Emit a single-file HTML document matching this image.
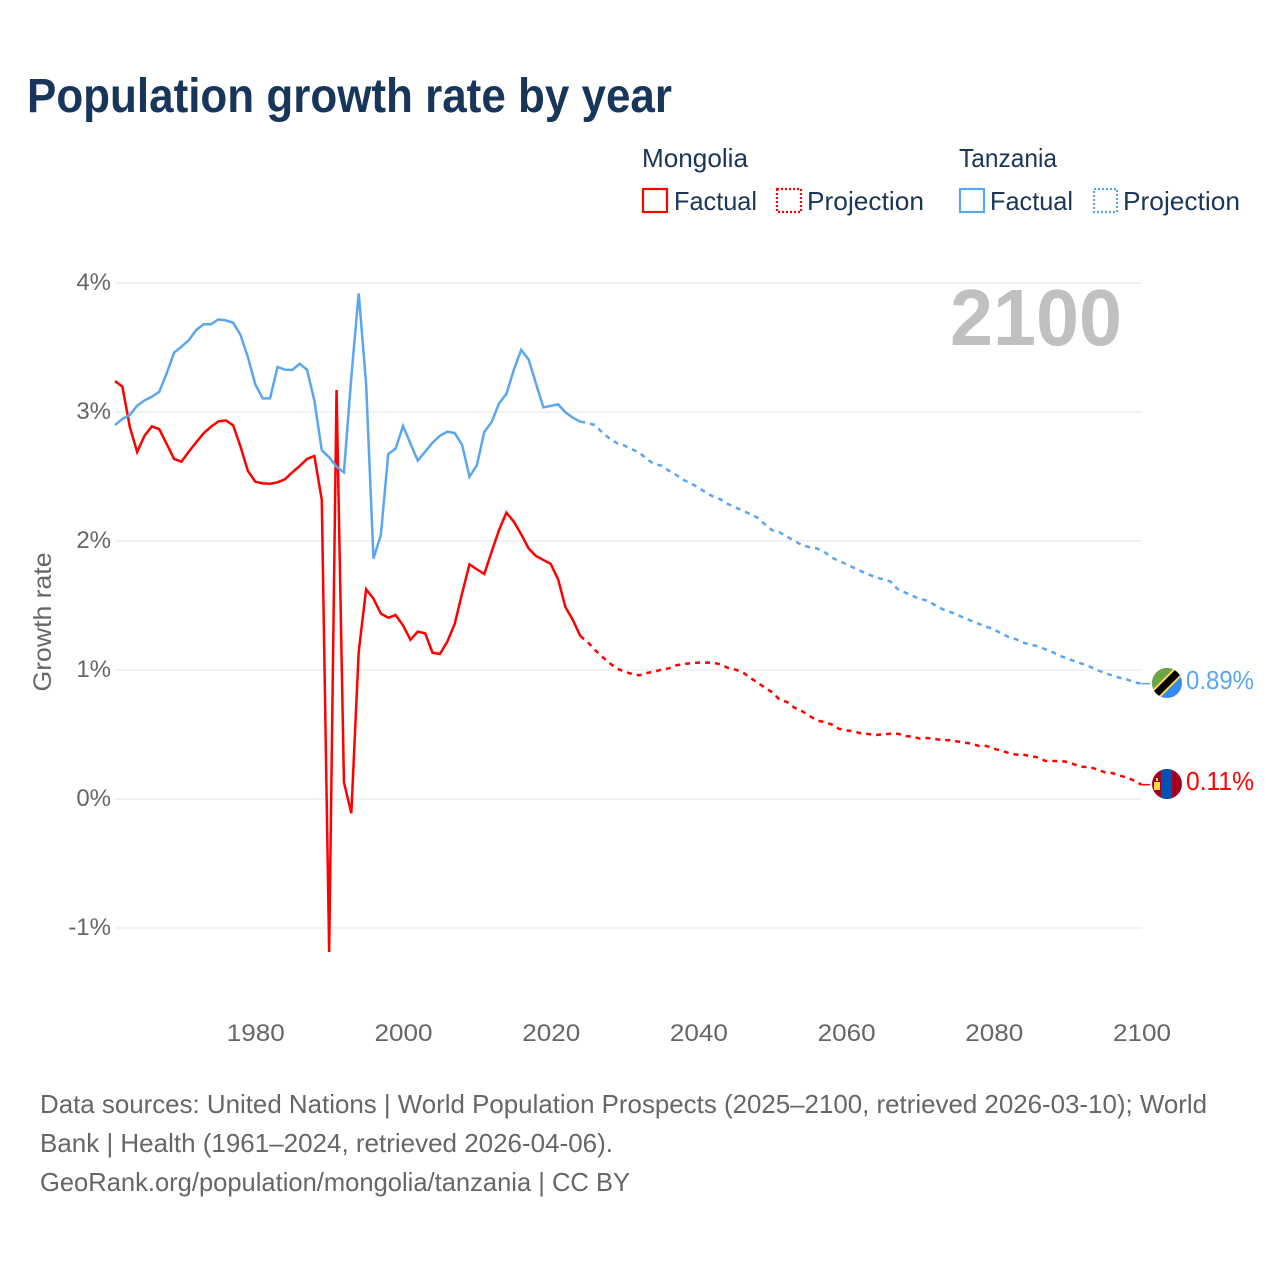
<!DOCTYPE html>
<html lang="en">
<head>
<meta charset="utf-8">
<title>Population growth rate by year</title>
<style>
html,body{margin:0;padding:0;background:#fff;}
svg{display:block;font-family:"Liberation Sans",sans-serif;}
.legend-text{font-size:26px;fill:#1a3557;}
.foot{font-size:26px;fill:#666;}
</style>
</head>
<body>
<svg id="chart" xmlns="http://www.w3.org/2000/svg" width="1280" height="1280" viewBox="0 0 1280 1280">
  <defs>
    <clipPath id="clip-tz"><circle cx="1167" cy="683" r="15"/></clipPath>
    <clipPath id="clip-mn"><circle cx="1167" cy="784" r="15"/></clipPath>
  </defs>
  <rect x="0" y="0" width="1280" height="1280" fill="#fff"/>

  <text x="27" y="112" font-size="48" font-weight="700" fill="#18355a" textLength="645" lengthAdjust="spacingAndGlyphs">Population growth rate by year</text>

  <g>
    <text class="legend-text" x="642" y="167" textLength="106" lengthAdjust="spacingAndGlyphs">Mongolia</text>
    <text class="legend-text" x="959" y="167" textLength="98" lengthAdjust="spacingAndGlyphs">Tanzania</text>

    <g>
      <rect x="643" y="189" width="24" height="23" fill="none" stroke="#ff0000" stroke-width="2.2"/>
      <text class="legend-text" x="674" y="210" textLength="83" lengthAdjust="spacingAndGlyphs">Factual</text>
    </g>
    <g>
      <rect x="777" y="189" width="24" height="23" fill="none" stroke="#ff0000" stroke-width="2.2" stroke-dasharray="2 2"/>
      <text class="legend-text" x="807" y="210" textLength="117" lengthAdjust="spacingAndGlyphs">Projection</text>
    </g>
    <g>
      <rect x="960" y="189" width="24" height="23" fill="none" stroke="#5ba6ef" stroke-width="2.2"/>
      <text class="legend-text" x="990" y="210" textLength="83" lengthAdjust="spacingAndGlyphs">Factual</text>
    </g>
    <g>
      <rect x="1094" y="189" width="23" height="23" fill="none" stroke="#5ba6ef" stroke-width="2.2" stroke-dasharray="2 2"/>
      <text class="legend-text" x="1123" y="210" textLength="117" lengthAdjust="spacingAndGlyphs">Projection</text>
    </g>
  </g>

  <g id="grid"></g>
  <g id="yticks"></g>
  <g id="xticks"></g>

  <text x="51" y="622" font-size="25" fill="#666" text-anchor="middle" textLength="139" lengthAdjust="spacingAndGlyphs" transform="rotate(-90 51 622)">Growth rate</text>

  <text x="950" y="345" font-size="80" font-weight="700" fill="#c0c0c0" textLength="172" lengthAdjust="spacingAndGlyphs">2100</text>

  <g id="series"></g>

  <g clip-path="url(#clip-tz)">
    <rect x="1150" y="666" width="34" height="34" fill="#338af3"/>
    <polygon points="1150,666 1184,666 1150,700" fill="#6da544"/>
    <line x1="1150" y1="700" x2="1184" y2="666" stroke="#ffda44" stroke-width="11"/>
    <line x1="1150" y1="700" x2="1184" y2="666" stroke="#000" stroke-width="7"/>
  </g>
  <g clip-path="url(#clip-mn)">
    <rect x="1150" y="767" width="34" height="34" fill="#a2001d"/>
    <rect x="1161" y="767" width="11" height="34" fill="#0052b4"/>
    <rect x="1154" y="782" width="6" height="8" fill="#ffda44"/>
    <rect x="1156" y="778" width="2" height="3" fill="#ffda44"/>
  </g>

  <text id="label-tz" x="1186" y="689" font-size="26" fill="#5ba6ef" textLength="68" lengthAdjust="spacingAndGlyphs">0.89%</text>
  <text id="label-mn" x="1186" y="790" font-size="26" fill="#ff0000" textLength="68" lengthAdjust="spacingAndGlyphs">0.11%</text>

  <g>
    <text class="foot" x="40" y="1113" textLength="1167" lengthAdjust="spacingAndGlyphs">Data sources: United Nations | World Population Prospects (2025–2100, retrieved 2026-03-10); World</text>
    <text class="foot" x="40" y="1152" textLength="573" lengthAdjust="spacingAndGlyphs">Bank | Health (1961–2024, retrieved 2026-04-06).</text>
    <text class="foot" x="40" y="1191" textLength="590" lengthAdjust="spacingAndGlyphs">GeoRank.org/population/mongolia/tanzania | CC BY</text>
  </g>
</svg>

<script>
const yTickValues = [4, 3, 2, 1, 0, -1];
const yTickLabels = ['4%', '3%', '2%', '1%', '0%', '-1%'];
const xTickYears = [1980, 2000, 2020, 2040, 2060, 2080, 2100];
const xTickLabels = ['1980', '2000', '2020', '2040', '2060', '2080', '2100'];

const factualStartYear = 1961;
const projectionStartYear = 2024;

const mongoliaFactual = [
  3.24, 3.196, 2.886, 2.69, 2.816, 2.889, 2.866, 2.752, 2.636, 2.615,
  2.693, 2.765, 2.835, 2.886, 2.927, 2.935, 2.897, 2.731, 2.543, 2.46,
  2.447, 2.444, 2.455, 2.478, 2.532, 2.581, 2.636, 2.659, 2.318, -1.186,
  3.17, 0.13, -0.11, 1.14, 1.626, 1.553, 1.437, 1.405, 1.426, 1.346,
  1.235, 1.297, 1.284, 1.134, 1.124, 1.22, 1.357, 1.594, 1.819, 1.78,
  1.744, 1.917, 2.085, 2.22, 2.15, 2.052, 1.943, 1.884, 1.853, 1.822,
  1.703, 1.486, 1.388, 1.264
];
const mongoliaProjection = [
  1.264, 1.217, 1.155, 1.101, 1.052, 1.01, 0.987, 0.969, 0.959, 0.977,
  0.987, 1.003, 1.013, 1.036, 1.047, 1.052, 1.057, 1.057, 1.057, 1.043,
  1.016, 1.003, 0.982, 0.94, 0.902, 0.863, 0.827, 0.77, 0.752, 0.708,
  0.682, 0.646, 0.61, 0.597, 0.579, 0.545, 0.532, 0.525, 0.509, 0.504,
  0.496, 0.501, 0.506, 0.506, 0.488, 0.483, 0.468, 0.473, 0.465, 0.457,
  0.455, 0.447, 0.437, 0.429, 0.411, 0.411, 0.39, 0.375, 0.357, 0.344,
  0.344, 0.331, 0.323, 0.295, 0.295, 0.295, 0.287, 0.266, 0.25, 0.246,
  0.23, 0.207, 0.202, 0.181, 0.168, 0.142, 0.111
];
const tanzaniaFactual = [
  2.899, 2.946, 2.977, 3.049, 3.09, 3.119, 3.157, 3.3, 3.46, 3.506,
  3.558, 3.636, 3.68, 3.68, 3.718, 3.71, 3.692, 3.597, 3.424, 3.214,
  3.106, 3.106, 3.349, 3.328, 3.326, 3.374, 3.328, 3.088, 2.703, 2.649,
  2.576, 2.532, 3.27, 3.92, 3.222, 1.863, 2.047, 2.674, 2.716, 2.891,
  2.757, 2.623, 2.693, 2.762, 2.816, 2.847, 2.837, 2.746, 2.498, 2.587,
  2.845, 2.922, 3.067, 3.14, 3.326, 3.481, 3.408, 3.222, 3.036, 3.047,
  3.06, 2.997, 2.956, 2.925
];
const tanzaniaProjection = [
  2.925, 2.915, 2.899, 2.84, 2.793, 2.758, 2.739, 2.711, 2.685, 2.636,
  2.597, 2.584, 2.545, 2.512, 2.473, 2.447, 2.413, 2.377, 2.344, 2.323,
  2.287, 2.261, 2.235, 2.209, 2.181, 2.129, 2.083, 2.067, 2.033, 2,
  1.969, 1.953, 1.943, 1.917, 1.874, 1.845, 1.822, 1.793, 1.767, 1.742,
  1.719, 1.703, 1.686, 1.626, 1.6, 1.574, 1.552, 1.537, 1.504, 1.473,
  1.452, 1.429, 1.403, 1.38, 1.357, 1.336, 1.315, 1.284, 1.256, 1.239,
  1.212, 1.196, 1.184, 1.16, 1.137, 1.109, 1.088, 1.067, 1.047, 1.026,
  1, 0.977, 0.959, 0.94, 0.928, 0.904, 0.894
];

const SVG_NS = 'http://www.w3.org/2000/svg';
const RED = '#ff0000';
const BLUE = '#5ba6ef';

function xScale(year) { return 115 + (year - 1961) * 7.385; }
function yScale(value) { return 799 - value * 129; }

function make(tag, attrs, parent) {
  const el = document.createElementNS(SVG_NS, tag);
  for (const k in attrs) el.setAttribute(k, attrs[k]);
  parent.appendChild(el);
  return el;
}

function pathFrom(values, startYear) {
  return values.map(function (v, i) {
    return (i ? 'L' : 'M') + xScale(startYear + i).toFixed(2) + ' ' + yScale(v).toFixed(2);
  }).join(' ');
}

const gridGroup = document.getElementById('grid');
const yTickGroup = document.getElementById('yticks');
const xTickGroup = document.getElementById('xticks');
const seriesGroup = document.getElementById('series');

yTickValues.forEach(function (v, i) {
  const gl = make('line', { x1: xScale(1961), x2: xScale(2100), y1: yScale(v), y2: yScale(v), stroke: '#eeeeee', 'stroke-width': 1.6 }, gridGroup);
  
  
  const t = make('text', { x: 111, y: yScale(v) + 7, 'font-size': 24, fill: '#666', 'text-anchor': 'end' }, yTickGroup);
  
  
  t.textContent = yTickLabels[i];
});

xTickYears.forEach(function (yr, i) {
  const t = make('text', { x: xScale(yr) + 0.5, y: 1041, 'font-size': 24, fill: '#666', 'text-anchor': 'middle', textLength: 58, lengthAdjust: 'spacingAndGlyphs' }, xTickGroup);
  
  
  t.textContent = xTickLabels[i];
});

const mnProj = make('path', { d: pathFrom(mongoliaProjection, projectionStartYear), fill: 'none', stroke: RED, 'stroke-width': 2.5, 'stroke-dasharray': '5 5' }, seriesGroup);



const tzProj = make('path', { d: pathFrom(tanzaniaProjection, projectionStartYear), fill: 'none', stroke: BLUE, 'stroke-width': 2.5, 'stroke-dasharray': '5 5' }, seriesGroup);



const mnFact = make('path', { d: pathFrom(mongoliaFactual, factualStartYear), fill: 'none', stroke: RED, 'stroke-width': 2.5 }, seriesGroup);



const tzFact = make('path', { d: pathFrom(tanzaniaFactual, factualStartYear), fill: 'none', stroke: BLUE, 'stroke-width': 2.5 }, seriesGroup);



const mnEnd = yScale(mongoliaProjection[mongoliaProjection.length - 1]);
const tzEnd = yScale(tanzaniaProjection[tanzaniaProjection.length - 1]);

const mnConn = make('line', { x1: xScale(2100), x2: 1150, y1: mnEnd, y2: mnEnd, stroke: RED, 'stroke-width': 1.5 }, seriesGroup);



const tzConn = make('line', { x1: xScale(2100), x2: 1150, y1: tzEnd, y2: tzEnd, stroke: BLUE, 'stroke-width': 1.5 }, seriesGroup);


</script>
</body>
</html>
